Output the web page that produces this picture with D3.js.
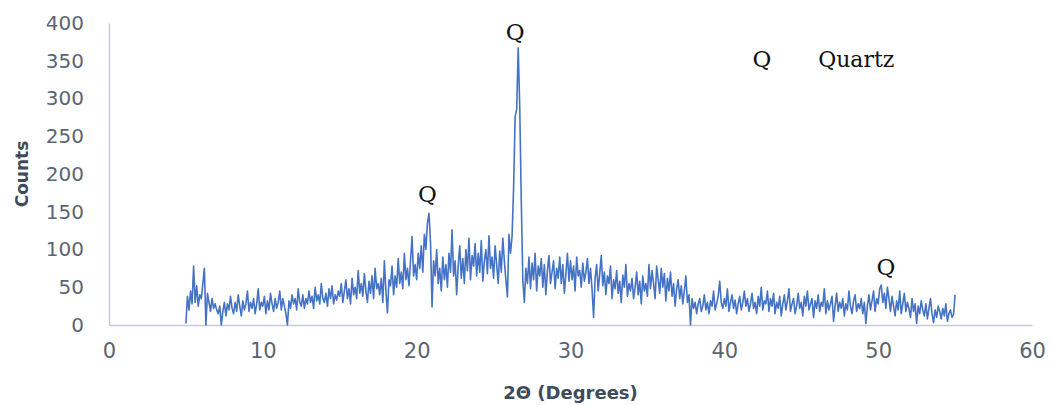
<!DOCTYPE html>
<html>
<head>
<meta charset="utf-8">
<script src="https://cdn.jsdelivr.net/npm/d3@7"></script>
<style>
  body { margin: 0; background: #ffffff; }
</style>
</head>
<body>
<div id="chart"></div>
<script>
// XRD pattern: counts against 2-theta

// Scan starts at 5 degrees, one reading every 0.1 degree
const angleStart = 5;
const angleStep = 0.1;

// Counts, one row per degree (5.0 ... 54.9), last value is 55.0
const counts = [
  2, 38, 20, 45, 28, 78, 30, 52, 25, 40,
  35, 55, 75, 0, 42, 30, 18, 35, 22, 28,
  20, 15, 25, 0, 18, 30, 12, 28, 20, 38,
  22, 15, 30, 18, 40, 25, 12, 32, 20, 28,
  45, 18, 30, 22, 35, 15, 28, 48, 20, 30,
  25, 38, 15, 32, 20, 42, 28, 18, 35, 22,
  30, 45, 20, 35, 25, 15, 0, 32, 22, 40,
  28, 35, 20, 48, 30, 25, 40, 22, 35, 28,
  45, 30, 38, 22, 50, 32, 40, 28, 55, 35,
  30, 42, 25, 48, 35, 52, 28, 40, 33, 45,
  38, 55, 30, 45, 60, 35, 48, 28, 62, 40,
  50, 35, 72, 42, 55, 38, 68, 45, 30, 58,
  42, 65, 35, 75, 48, 55, 40, 62, 30, 85,
  45, 16, 60, 52, 78, 40, 65, 50, 88, 55,
  70, 48, 95, 60, 75, 52, 85, 117, 65, 80,
  60, 95, 75, 105, 70, 120, 100, 135, 148, 110,
  24, 85, 65, 100, 55, 75, 45, 90, 60, 80,
  50, 95, 70, 126, 65, 85, 40, 78, 105, 62,
  88, 55, 100, 72, 115, 60, 92, 78, 108, 65,
  95, 70, 112, 58, 85, 100, 68, 118, 75, 90,
  62, 105, 80, 55, 98, 70, 115, 85, 60, 37,
  120, 95, 117, 180, 276, 285, 367, 289, 165, 60,
  30, 75, 55, 90, 48, 82, 60, 95, 45, 78,
  65, 88, 50, 80, 40, 72, 92, 55, 70, 85,
  48, 75, 62, 90, 55, 80, 42, 68, 95, 58,
  85, 60, 78, 45, 90, 65, 72, 50, 82, 58,
  70, 88, 55, 75, 48, 10, 62, 80, 45, 68,
  92, 52, 70, 40, 65, 55, 78, 35, 60, 48,
  72, 42, 58, 30, 66, 50, 80, 38, 55, 45,
  62, 35, 50, 70, 40, 58, 28, 65, 45, 55,
  38, 80, 48, 72, 55, 35, 78, 60, 42, 75,
  50, 68, 32, 62, 45, 70, 38, 55, 25, 48,
  60, 35, 52, 28, 45, 65, 30, 40, 0, 35,
  22, 30, 15, 28, 35, 18, 25, 40, 20, 30,
  15, 32, 25, 45, 20, 28, 38, 58, 30, 22,
  35, 25, 48, 18, 30, 40, 22, 33, 15, 28,
  38, 20, 30, 45, 25, 35, 18, 28, 42, 22,
  30, 15, 38, 25, 50, 20, 32, 28, 45, 18,
  35, 25, 42, 15, 30, 22, 38, 12, 28, 40,
  20, 32, 48, 18, 28, 35, 15, 25, 42, 22,
  30, 12, 38, 25, 45, 20, 28, 35, 10, 32,
  22, 40, 18, 30, 25, 48, 15, 32, 20, 28,
  38, 5, 25, 42, 18, 30, 22, 35, 12, 28,
  20, 45, 25, 15, 32, 40, 18, 28, 22, 35,
  15, 30, 2, 25, 40, 20, 32, 45, 18, 35,
  28, 48, 53, 30, 42, 22, 50, 35, 18, 38,
  25, 12, 32, 20, 45, 15, 28, 42, 18, 30,
  22, 10, 35, 18, 28, 2, 25, 15, 32, 20,
  12, 28, 8, 22, 35, 15, 3, 20, 10, 25,
  18, 8, 22, 12, 28, 5, 15, 20, 10, 14,
  40
];

// Axis ticks
const xTicks = [0, 10, 20, 30, 40, 50, 60];
const yTicks = [0, 50, 100, 150, 200, 250, 300, 350, 400];

// Peak labels (angle, counts where the label sits)
const peakLabels = ["Q", "Q", "Q"];
const peakAngles = [26.4, 20.7, 50.5];
const peakCounts = [377, 163, 66];

// Legend text
const legendKey = "Q";
const legendName = "Quartz";

const width = 1051;
const height = 405;
const margin = { top: 23, right: 19, bottom: 80, left: 109 };

const svg = d3.select("#chart")
  .append("svg")
  .attr("width", width)
  .attr("height", height);

const x = d3.scaleLinear()
  .domain([0, 60])
  .range([margin.left, width - margin.right]);

const y = d3.scaleLinear()
  .domain([0, 400])
  .range([height - margin.bottom, margin.top]);

const axisColor = "#c3cbd6";
const labelColor = "#5b6473";

// x axis: line plus labels, no tick marks
const xAxis = svg.append("g")
  .attr("transform", "translate(0," + y(0) + ")")
  .call(d3.axisBottom(x).tickValues(xTicks).tickSize(0).tickPadding(18));
xAxis.select(".domain").attr("stroke", axisColor).attr("stroke-width", 1.5);
xAxis.selectAll("text")
  .attr("fill", labelColor)
  .style("font-family", "DejaVu Sans")
  .style("font-size", "21px");

// y axis
const yAxis = svg.append("g")
  .attr("transform", "translate(" + x(0) + ",0)")
  .call(d3.axisLeft(y).tickValues(yTicks).tickSize(0).tickPadding(25));
yAxis.select(".domain").attr("stroke", axisColor).attr("stroke-width", 1.5);
yAxis.selectAll("text")
  .attr("fill", labelColor)
  .style("font-family", "DejaVu Sans")
  .style("font-size", "20px");

// the scan itself
const line = d3.line()
  .x((d, i) => x(angleStart + i * angleStep))
  .y(d => y(d));

svg.append("path")
  .datum(counts)
  .attr("fill", "none")
  .attr("stroke", "#4472c4")
  .attr("stroke-width", 1.6)
  .attr("stroke-linejoin", "round")
  .attr("d", line);

// axis titles
svg.append("text")
  .attr("transform", "translate(28," + ((margin.top + y(0)) / 2) + ") rotate(-90)")
  .attr("text-anchor", "middle")
  .attr("fill", "#404b5a")
  .style("font-family", "DejaVu Sans")
  .style("font-weight", "bold")
  .style("font-size", "17px")
  .text("Counts");

svg.append("text")
  .attr("x", (x(0) + x(60)) / 2)
  .attr("y", 399)
  .attr("text-anchor", "middle")
  .attr("fill", "#404b5a")
  .style("font-family", "DejaVu Sans")
  .style("font-weight", "bold")
  .style("font-size", "18px")
  .text("2Θ (Degrees)");

// peak markers
svg.selectAll(".peak")
  .data(peakLabels)
  .enter()
  .append("text")
  .attr("class", "peak")
  .attr("x", (d, i) => x(peakAngles[i]))
  .attr("y", (d, i) => y(peakCounts[i]))
  .attr("text-anchor", "middle")
  .attr("fill", "#111")
  .style("font-family", "DejaVu Serif")
  .style("font-size", "23px")
  .text(d => d);

// legend
svg.append("text")
  .attr("x", x(42.45))
  .attr("y", y(342))
  .attr("text-anchor", "middle")
  .attr("fill", "#111")
  .style("font-family", "DejaVu Serif")
  .style("font-size", "23px")
  .text(legendKey);

svg.append("text")
  .attr("x", x(46.1))
  .attr("y", y(342))
  .attr("fill", "#111")
  .style("font-family", "DejaVu Serif")
  .style("font-size", "22px")
  .text(legendName);
</script>
</body>
</html>
